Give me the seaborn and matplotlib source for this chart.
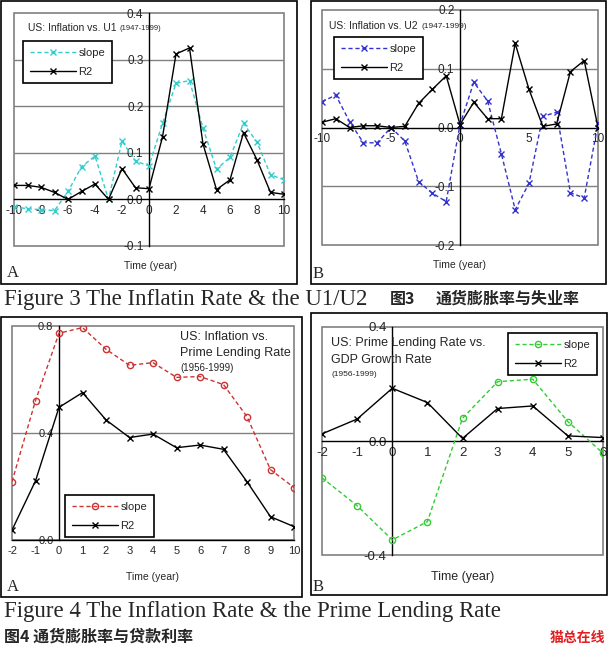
import numpy as np
import matplotlib
matplotlib.use("Agg")
import matplotlib.pyplot as plt
import seaborn as sns
from matplotlib.patches import Rectangle
from matplotlib.ticker import FormatStrFormatter, MultipleLocator

# ---- data ----
years_u = list(range(-10, 11))
u1_slope = [-0.016, -0.020, -0.022, -0.024, 0.017, 0.070, 0.093, 0.000, 0.125, 0.082, 0.072,
            0.163, 0.249, 0.255, 0.153, 0.065, 0.090, 0.163, 0.123, 0.053, 0.042]
u1_r2 = [0.030, 0.030, 0.026, 0.015, 0.000, 0.017, 0.033, 0.000, 0.066, 0.025, 0.023,
         0.134, 0.312, 0.325, 0.119, 0.021, 0.042, 0.143, 0.085, 0.015, 0.011]

u2_slope = [0.044, 0.055, 0.010, -0.026, -0.026, 0.000, -0.023, -0.092, -0.112, -0.126, 0.005,
            0.077, 0.045, -0.045, -0.140, -0.095, 0.019, 0.026, -0.111, -0.120, 0.007]
u2_r2 = [0.009, 0.015, 0.000, 0.003, 0.003, 0.000, 0.002, 0.041, 0.065, 0.088, 0.005,
         0.043, 0.015, 0.015, 0.143, 0.065, 0.002, 0.006, 0.095, 0.114, 0.000]

years_p = list(range(-2, 11))
prime_slope = [0.218, 0.521, 0.773, 0.794, 0.713, 0.653, 0.663, 0.608, 0.611, 0.581, 0.461, 0.263, 0.196]
prime_r2 = [0.037, 0.221, 0.496, 0.551, 0.449, 0.383, 0.396, 0.345, 0.355, 0.339, 0.218, 0.087, 0.050]

years_g = list(range(-2, 7))
gdp_slope = [-0.129, -0.227, -0.347, -0.283, 0.080, 0.208, 0.217, 0.068, -0.043]
gdp_r2 = [0.025, 0.077, 0.185, 0.135, 0.009, 0.114, 0.123, 0.018, 0.012]

sns.set_theme(style="white")
plt.rcParams["font.family"] = ["Liberation Sans", "DejaVu Sans"]
plt.rcParams["axes.unicode_minus"] = False

W, H = 610, 651
fig = plt.figure(figsize=(W / 100, H / 100), dpi=100)
fig.patch.set_facecolor("white")

CJK = ["Noto Sans CJK SC", "DejaVu Sans"]
SERIF = ["Liberation Serif", "DejaVu Serif"]
GRAY = "#808080"


def fx(x):
    return x / W


def fy(y):
    return 1 - y / H


def frame(x0, y0, x1, y1):
    fig.patches.append(Rectangle((fx(x0), fy(y1)), (x1 - x0) / W, (y1 - y0) / H,
                                 transform=fig.transFigure, fill=False, ec="black", lw=1.2))


def panel(left, top, right, bottom, xlim, ylim, xstep, ystep, grid, tsize):
    ax = fig.add_axes([fx(left), fy(bottom), (right - left) / W, (bottom - top) / H])
    ax.set_facecolor("white")
    ax.set_xlim(*xlim)
    ax.set_ylim(*ylim)
    ax.xaxis.set_major_locator(MultipleLocator(xstep))
    ax.yaxis.set_major_locator(MultipleLocator(ystep))
    ax.yaxis.set_major_formatter(FormatStrFormatter("%.1f"))
    for g in grid:
        ax.axhline(g, color=GRAY, lw=1, zorder=0)
    ax.add_patch(Rectangle((0, 0), 1, 1, transform=ax.transAxes, fill=False,
                           ec=GRAY, lw=1.2, zorder=0.5, clip_on=False))
    ax.spines["left"].set_position(("data", 0))
    ax.spines["bottom"].set_position(("data", 0))
    for s in ["left", "bottom"]:
        ax.spines[s].set_color("black")
        ax.spines[s].set_linewidth(1)
        ax.spines[s].set_zorder(1)
    for s in ["top", "right"]:
        ax.spines[s].set_visible(False)
    ax.tick_params(direction="out", length=3, width=1, color="black",
                   labelsize=tsize, pad=1)
    ax.set_xlabel("")
    ax.set_ylabel("")
    return ax


def draw(ax, x, slope, r2, color, smarker):
    sns.lineplot(x=x, y=slope, ax=ax, color=color, lw=1, linestyle=(0, (3, 2)),
                 marker=smarker, markersize=4.5, mfc="none" if smarker == "o" else color,
                 mec=color, mew=1, label="slope", zorder=3)
    sns.lineplot(x=x, y=r2, ax=ax, color="black", lw=1, marker="x",
                 markersize=4, mec="black", mew=1, label="R2", zorder=3)


def legend(ax, x, y, fs):
    lg = ax.legend(loc="upper left", bbox_to_anchor=(fx(x), fy(y)),
                   bbox_transform=fig.transFigure, fancybox=False, framealpha=1,
                   edgecolor="black", fontsize=fs, handlelength=4.2,
                   borderpad=0.6, labelspacing=0.8, handletextpad=0.2, borderaxespad=0)
    lg.get_frame().set_linewidth(1.2)


# ---- frames ----
frame(1, 1, 297, 284)
frame(311, 1, 606, 284)
frame(1, 317, 302, 597)
frame(311, 313, 607, 595)

# ---- Figure 3 A ----
ax = panel(14, 13, 284, 246, (-10, 10), (-0.1, 0.4), 2, 0.1, [0.1, 0.2, 0.3], 8.5)
draw(ax, years_u, u1_slope, u1_r2, "#33CCCC", "x")
legend(ax, 23, 41, 8)
fig.text(fx(117), fy(28), "US: Inflation vs. U1", fontsize=7.5, ha="right", va="center")
fig.text(fx(119), fy(29), "(1947-1999)", fontsize=5.5, va="center")
fig.text(fx(150), fy(266), "Time (year)", fontsize=7.5, ha="center", va="center")
fig.text(fx(7), fy(273), "A", fontsize=12, family=SERIF, va="center")

# ---- Figure 3 B ----
ax = panel(322, 10, 598, 245, (-10, 10), (-0.2, 0.2), 5, 0.1, [0.1, -0.1], 8.5)
draw(ax, years_u, u2_slope, u2_r2, "#3333CC", "x")
legend(ax, 334, 37, 8)
fig.text(fx(418), fy(26), "US: Inflation vs. U2", fontsize=7.5, ha="right", va="center")
fig.text(fx(421), fy(27), "(1947-1999)", fontsize=6, va="center")
fig.text(fx(460), fy(265), "Time (year)", fontsize=7.5, ha="center", va="center")
fig.text(fx(313), fy(274), "B", fontsize=12, family=SERIF, va="center")

# ---- Figure 4 A ----
ax = panel(12, 326, 294, 540, (-2, 10), (0, 0.8), 1, 0.4, [0.4], 8)
draw(ax, years_p, prime_slope, prime_r2, "#CC3333", "o")
legend(ax, 65, 495, 8)
fig.text(fx(180), fy(337), "US: Inflation vs.", fontsize=9, va="center")
fig.text(fx(180), fy(353), "Prime Lending Rate", fontsize=9, va="center")
fig.text(fx(180), fy(368), "(1956-1999)", fontsize=7, va="center")
fig.text(fx(152), fy(577), "Time (year)", fontsize=7.5, ha="center", va="center")
fig.text(fx(7), fy(587), "A", fontsize=12, family=SERIF, va="center")

# ---- Figure 4 B ----
ax = panel(322, 327, 603, 555, (-2, 6), (-0.4, 0.4), 1, 0.4, [], 9.5)
draw(ax, years_g, gdp_slope, gdp_r2, "#33CC33", "o")
legend(ax, 508, 333, 8)
fig.text(fx(331), fy(343), "US: Prime Lending Rate vs.", fontsize=9, va="center")
fig.text(fx(331), fy(360), "GDP Growth Rate", fontsize=9, va="center")
fig.text(fx(331), fy(374), "(1956-1999)", fontsize=6, va="center")
fig.text(fx(463), fy(577), "Time (year)", fontsize=9, ha="center", va="center")
fig.text(fx(313), fy(587), "B", fontsize=12, family=SERIF, va="center")

# ---- captions ----
fig.text(fx(4), fy(299), "Figure 3 The Inflatin Rate & the U1/U2", fontsize=16.5, family=SERIF, va="center")
fig.text(fx(390), fy(299), "图3", fontsize=11.5, family=CJK, weight="bold", va="center")
fig.text(fx(436), fy(299), "通货膨胀率与失业率", fontsize=11.5, family=CJK, weight="bold", va="center")
fig.text(fx(4), fy(612), "Figure 4 The Inflation Rate & the Prime Lending Rate", fontsize=16.5, family=SERIF, va="center")
fig.text(fx(4), fy(637), "图4 通货膨胀率与贷款利率", fontsize=11.5, family=CJK, weight="bold", va="center")
fig.text(fx(605), fy(638), "猫总在线", fontsize=10, family=CJK, weight="bold", color="#E02020",
         ha="right", va="center")

fig.savefig("out.png", dpi=100)
